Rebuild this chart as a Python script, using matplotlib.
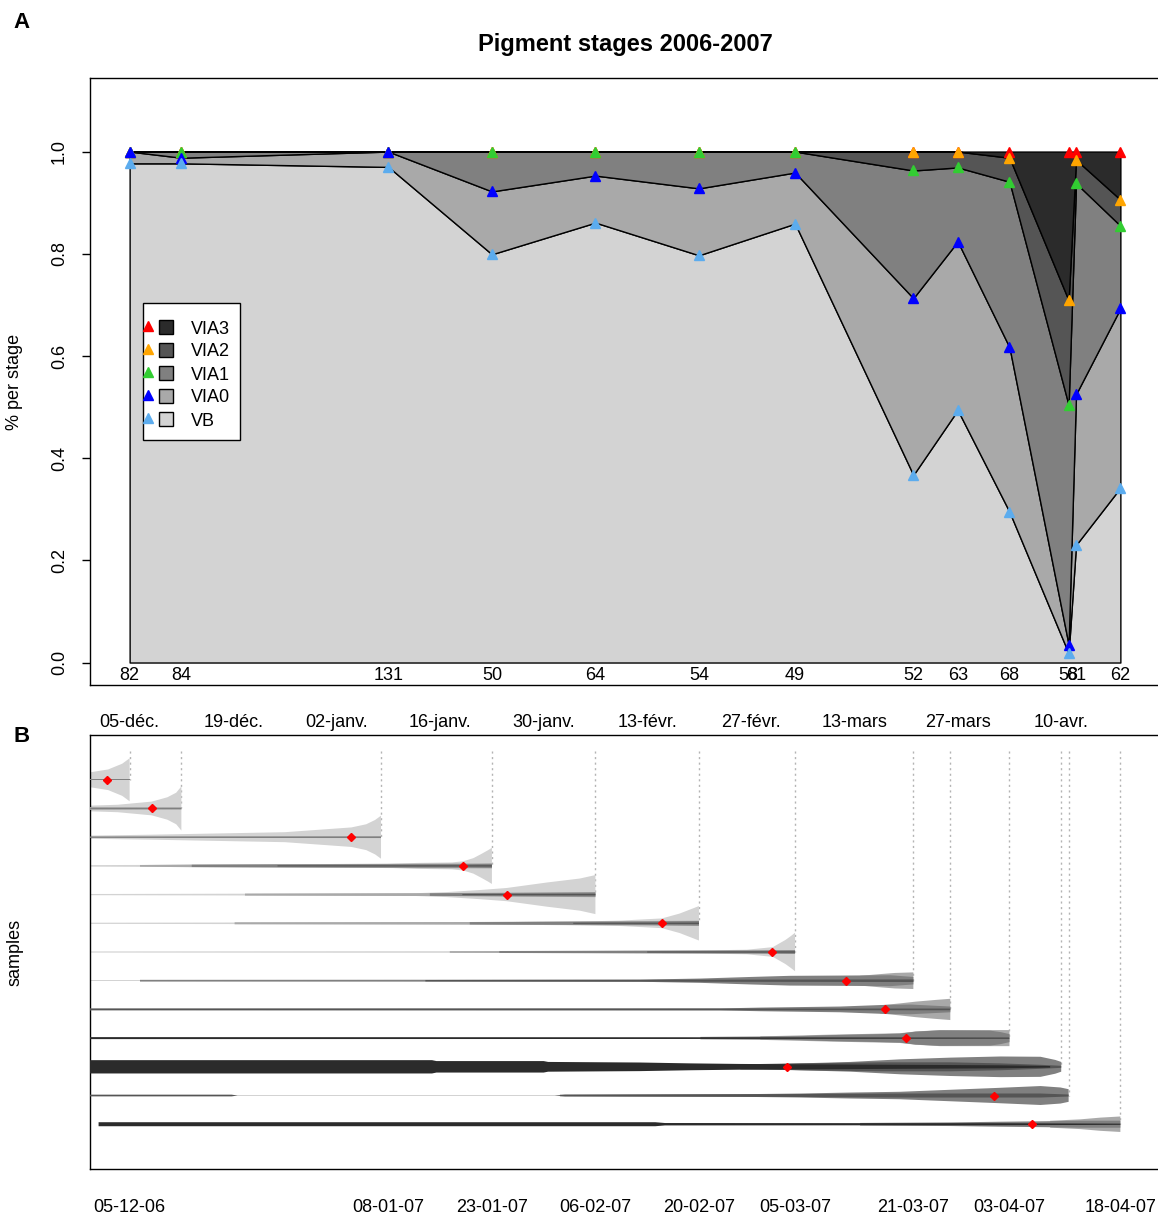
import numpy as np
import matplotlib
matplotlib.use('Agg')
import matplotlib.pyplot as plt
from matplotlib.patches import Rectangle
from matplotlib.transforms import blended_transform_factory

plt.rcParams['font.family'] = ['Liberation Sans', 'DejaVu Sans']

# ---- panel A: cumulative share of pigment stages per sample ----
stage_days = [0, 7, 35, 49, 63, 77, 90, 106, 112, 119, 127, 128, 134]
sample_sizes = ['82', '84', '131', '50', '64', '54', '49', '52', '63', '68', '58', '61', '62']
cum_vb = [0.977, 0.977, 0.970, 0.799, 0.861, 0.797, 0.859, 0.367, 0.494, 0.295, 0.018, 0.230, 0.342]
cum_via0 = [1.0, 0.988, 1.0, 0.922, 0.953, 0.928, 0.959, 0.713, 0.824, 0.617, 0.035, 0.525, 0.693]
cum_via1 = [1.0, 1.0, 1.0, 1.0, 1.0, 1.0, 1.0, 0.963, 0.969, 0.941, 0.504, 0.938, 0.855]
cum_via2 = [1.0, 1.0, 1.0, 1.0, 1.0, 1.0, 1.0, 1.0, 1.0, 0.988, 0.709, 0.984, 0.906]
cum_via3 = [1.0, 1.0, 1.0, 1.0, 1.0, 1.0, 1.0, 1.0, 1.0, 1.0, 1.0, 1.0, 1.0]

stage_names = ['VB', 'VIA0', 'VIA1', 'VIA2', 'VIA3']
stage_fills = ['#d3d3d3', '#a9a9a9', '#808080', '#555555', '#2b2b2b']
stage_marks = ['#5cacee', '#0000ff', '#32cd32', '#ffa500', '#ff0000']

# ---- panel B: back-dated stage profiles, one row per sample ----
sample_days = [0, 7, 34, 49, 63, 77, 90, 106, 111, 119, 126, 127, 134]
mean_days = [-3.1, 3.0, 30.0, 45.1, 51.0, 72.0, 86.9, 96.9, 102.1, 105.0, 88.9, 116.9, 122.0]
top_labels = ['05-déc.', '19-déc.', '02-janv.', '16-janv.', '30-janv.', '13-févr.',
              '27-févr.', '13-mars', '27-mars', '10-avr.']
top_label_days = [0, 14, 28, 42, 56, 70, 84, 98, 112, 126]
bottom_labels = ['05-12-06', '08-01-07', '23-01-07', '06-02-07', '20-02-07',
                 '05-03-07', '21-03-07', '03-04-07', '18-04-07']
bottom_label_days = [0, 35, 49, 63, 77, 90, 106, 119, 134]

# (days, half-width in row units) per row; None where the stage is absent
vb_bands = [
    ([-6.8, -2.9, -1.0, 0.0], [0.20, 0.36, 0.56, 0.75]),
    ([-6.8, -1.6, 3.0, 5.1, 6.3, 7.0], [0.087, 0.13, 0.24, 0.39, 0.55, 0.77]),
    ([-6.8, 3.0, 11.9, 21.0, 30.0, 32.0, 33.2, 34.0], [0.05, 0.087, 0.13, 0.174, 0.34, 0.45, 0.60, 0.75]),
    ([-6.8, 8.4, 34.5, 39.0, 43.6, 45.1, 46.5, 47.6, 48.5, 49.0],
     [0.025, 0.04, 0.063, 0.104, 0.12, 0.16, 0.27, 0.42, 0.55, 0.63]),
    ([-6.8, 23.0, 38.3, 42.9, 47.4, 51.0, 56.4, 60.9, 63.0],
     [0.02, 0.035, 0.045, 0.087, 0.16, 0.23, 0.42, 0.56, 0.68]),
    ([-6.8, 36.5, 51.8, 60.9, 66.3, 72.0, 74.4, 75.8, 77.0],
     [0.02, 0.035, 0.045, 0.063, 0.093, 0.17, 0.34, 0.48, 0.60]),
    ([-6.8, 57.5, 70.0, 78.9, 83.5, 87.0, 88.7, 89.4, 90.0],
     [0.02, 0.03, 0.042, 0.06, 0.08, 0.17, 0.42, 0.55, 0.67]),
    ([-6.8, 1.4], [0.025, 0.025]),
    None,
    None,
    None,
    ([-6.8, 63.6], [0.025, 0.025]),
    None,
]
via0_bands = [
    None,
    ([-6.8, 7.0], [0.05, 0.035]),
    None,
    ([1.4, 8.4, 49.0], [0.03, 0.045, 0.09]),
    ([15.6, 40.6, 63.0], [0.035, 0.05, 0.09]),
    ([14.2, 46.0, 77.0], [0.035, 0.045, 0.09]),
    ([43.3, 77.0, 90.0], [0.03, 0.045, 0.07]),
    ([98.8, 101.5, 103.5, 106.0], [0.17, 0.23, 0.27, 0.29]),
    ([101.5, 104.2, 106.3, 109.0, 111.0], [0.14, 0.21, 0.27, 0.33, 0.37]),
    ([85.3, 94.7, 104.2, 106.3, 109.6, 116.4, 119.0], [0.06, 0.12, 0.17, 0.23, 0.28, 0.28, 0.28]),
    None,
    None,
    ([124.5, 128.6, 131.3, 134.0], [0.12, 0.17, 0.23, 0.27]),
]
via1_bands = [
    ([-6.8, 0.0], [0.025, 0.025]),
    ([-6.8, 7.0], [0.02, 0.025]),
    ([-6.8, 34.0], [0.025, 0.03]),
    ([8.4, 45.1, 49.0], [0.04, 0.06, 0.07]),
    ([40.6, 55.0, 63.0], [0.045, 0.06, 0.07]),
    ([46.0, 70.0, 77.0], [0.04, 0.06, 0.08]),
    ([50.0, 85.0, 90.0], [0.035, 0.05, 0.06]),
    ([1.4, 69.0, 71.7, 77.2, 83.9, 89.3, 96.9, 102.9, 106.0],
     [0.03, 0.035, 0.05, 0.075, 0.13, 0.17, 0.18, 0.19, 0.13]),
    ([-6.8, 79.9, 85.3, 96.1, 102.1, 105.6, 111.0], [0.03, 0.035, 0.063, 0.10, 0.157, 0.17, 0.10]),
    ([77.2, 85.3, 90.7, 94.7, 101.5, 104.2, 106.3, 109.6, 116.4, 117.8, 119.0],
     [0.042, 0.056, 0.07, 0.104, 0.139, 0.157, 0.226, 0.27, 0.26, 0.21, 0.14]),
    ([82.6, 90.7, 97.5, 104.2, 111.0, 117.8, 123.2, 125.2, 126.0],
     [0.05, 0.12, 0.17, 0.26, 0.32, 0.36, 0.35, 0.24, 0.17]),
    ([58.2, 82.6, 90.7, 97.5, 104.2, 111.0, 116.9, 123.2, 125.9, 127.0],
     [0.03, 0.045, 0.07, 0.104, 0.13, 0.20, 0.26, 0.33, 0.28, 0.22]),
    ([98.8, 111.0, 117.8, 124.0, 128.6, 134.0], [0.045, 0.063, 0.087, 0.104, 0.122, 0.122]),
]
via2_bands = [
    None,
    None,
    None,
    ([20.0, 49.0], [0.018, 0.025]),
    ([45.0, 63.0], [0.018, 0.025]),
    ([60.0, 77.0], [0.018, 0.025]),
    ([70.0, 90.0], [0.018, 0.025]),
    ([40.0, 106.0], [0.025, 0.045]),
    ([-6.8, 111.0], [0.028, 0.03]),
    None,
    ([82.6, 90.7, 101.5, 111.0, 117.8, 123.2, 126.0], [0.087, 0.12, 0.157, 0.157, 0.12, 0.07, 0.035]),
    ([-6.8, 13.8, 14.6, 57.5, 58.9, 90.7, 104.2, 123.2, 127.0],
     [0.03, 0.03, 0.0, 0.0, 0.03, 0.052, 0.07, 0.07, 0.035]),
    None,
]
via3_bands = [
    None,
    None,
    None,
    None,
    None,
    None,
    None,
    None,
    None,
    ([-6.8, 75.0, 119.0], [0.035, 0.03, 0.015]),
    ([-6.8, 40.9, 41.5, 56.0, 56.6, 69.0, 75.8, 82.6, 90.7, 104.2, 117.8, 124.5],
     [0.232, 0.232, 0.20, 0.20, 0.17, 0.15, 0.12, 0.10, 0.087, 0.07, 0.052, 0.028]),
    None,
    ([-4.2, 71.1, 72.4, 117.8, 134.0], [0.07, 0.07, 0.042, 0.035, 0.02]),
]

W, H = 1158, 1216
FS = 13
fig = plt.figure(figsize=(W / 100, H / 100), dpi=100)
xlim = (-5.36, 139.36)

# ---------------- panel A ----------------
axA = fig.add_axes([90 / W, 1 - 685 / H, 1070 / W, 607 / H])
cums = [cum_vb, cum_via0, cum_via1, cum_via2, cum_via3]
lower = np.zeros(len(stage_days))
for vals, fc in zip(cums, stage_fills):
    axA.fill_between(stage_days, lower, vals, facecolor=fc, edgecolor='black', lw=1.0, zorder=1)
    lower = np.array(vals)
# top stage first so the lower-stage markers sit on top
for k in range(4, -1, -1):
    axA.plot(stage_days, cums[k], ls='none', marker='^', ms=7.5, color=stage_marks[k],
             mec=stage_marks[k], zorder=10 + (4 - k))

for d, s in zip(stage_days, sample_sizes):
    axA.text(d, -0.025, s, ha='center', va='center', fontsize=FS)

axA.set_xlim(*xlim)
axA.set_ylim(-0.044, 1.144)
axA.set_xticks([])
yt = [0.0, 0.2, 0.4, 0.6, 0.8, 1.0]
axA.set_yticks(yt)
axA.set_yticklabels([f'{v:.1f}' for v in yt], rotation=90, va='center', fontsize=FS)
axA.tick_params(axis='y', length=6, width=1, pad=10)
for sp in axA.spines.values():
    sp.set_linewidth(1.0)

# legend box drawn by hand: triangle, filled square, stage name
def ax_frac(px, py):
    return (px - 90) / 1070, (685 - py) / 607

x0, y0 = ax_frac(143, 440)
x1, y1 = ax_frac(240, 303)
axA.add_patch(Rectangle((x0, y0), x1 - x0, y1 - y0, transform=axA.transAxes,
                        facecolor='white', edgecolor='black', lw=1.0, zorder=20))
for i, k in enumerate(range(4, -1, -1)):
    cy = 329 + 23 * i
    tx, ty = ax_frac(148, cy - 3)
    axA.plot([tx], [ty], transform=axA.transAxes, ls='none', marker='^', ms=7.5,
             color=stage_marks[k], zorder=21, clip_on=False)
    sx, sy = ax_frac(166, cy - 2)
    axA.plot([sx], [sy], transform=axA.transAxes, ls='none', marker='s', ms=10,
             mfc=stage_fills[k], mec='black', mew=1.0, zorder=21)
    lx, ly = ax_frac(191, cy)
    axA.text(lx, ly, stage_names[k], transform=axA.transAxes, ha='left', va='center',
             fontsize=FS, zorder=22)

fig.text(625 / W, 1 - 45 / H, 'Pigment stages 2006-2007', ha='center', va='center',
         fontsize=17, fontweight='bold')
fig.text(22 / W, 1 - 22 / H, 'A', ha='center', va='center', fontsize=16, fontweight='bold')
fig.text(15 / W, 1 - 382 / H, '% per stage', ha='center', va='center', rotation=90, fontsize=FS)

# ---------------- panel B ----------------
axB = fig.add_axes([90 / W, 1 - 1169 / H, 1070 / W, 434 / H])
n_rows = len(sample_days)
row_y = [n_rows - i for i in range(n_rows)]

for d, y in zip(sample_days, row_y):
    axB.plot([d, d], [14, y], ls=(0, (1.5, 2.5)), color='#b4b4b4', lw=1.0, zorder=1)

for bands, fc, z in zip([vb_bands, via0_bands, via1_bands, via2_bands, via3_bands],
                        stage_fills, [2, 3, 4, 5, 6]):
    for y, band in zip(row_y, bands):
        if band is None:
            continue
        bx = np.array(band[0])
        bw = np.array(band[1])
        axB.fill_between(bx, y - bw, y + bw, facecolor=fc, lw=0, zorder=z)

axB.plot(mean_days, row_y, ls='none', marker='D', ms=4.5, color='#ff0000', zorder=10)

axB.set_xlim(*xlim)
axB.set_ylim(-0.56, 14.56)
axB.set_yticks([])
axB.xaxis.tick_top()
axB.set_xticks(top_label_days)
axB.set_xticklabels(top_labels, fontsize=FS)
axB.tick_params(axis='x', length=0, pad=3)
for sp in axB.spines.values():
    sp.set_linewidth(1.0)

trans = blended_transform_factory(axB.transData, fig.transFigure)
for d, s in zip(bottom_label_days, bottom_labels):
    axB.text(d, 1 - 1207 / H, s, transform=trans, ha='center', va='center', fontsize=FS,
             clip_on=False)

fig.text(22 / W, 1 - 736 / H, 'B', ha='center', va='center', fontsize=16, fontweight='bold')
fig.text(15 / W, 1 - 952 / H, 'samples', ha='center', va='center', rotation=90, fontsize=FS)

fig.savefig('out.png', dpi=100, facecolor='white')
